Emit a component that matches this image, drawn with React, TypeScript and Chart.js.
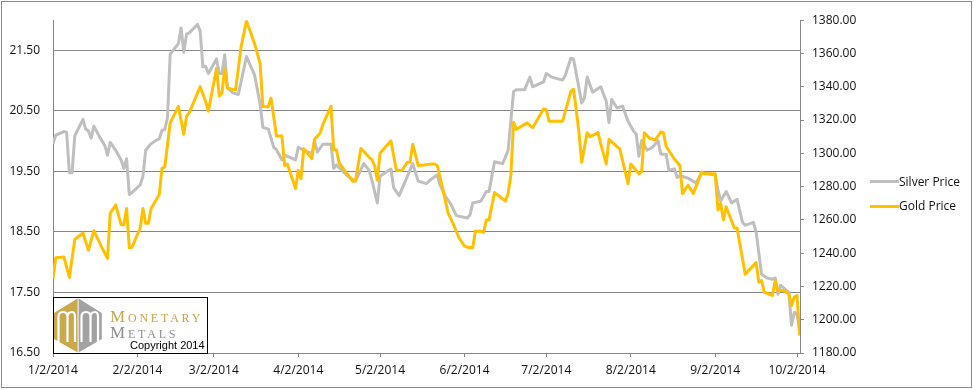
import React, { useEffect, useRef } from "react";
import { Chart, registerables } from "chart.js";

Chart.register(...registerables);

const YEAR = 2014;

const silverDates = [
  "1/2", "1/3", "1/6", "1/7", "1/8", "1/9", "1/10", "1/13", "1/14", "1/15", "1/16", "1/17", "1/19", "1/21", "1/22", "1/23", "1/25", "1/27", "1/28", "1/29", "1/30", "1/31",
  "2/3", "2/4", "2/5", "2/7", "2/9", "2/10", "2/11", "2/12", "2/13", "2/14", "2/17", "2/18", "2/19", "2/20", "2/21", "2/24", "2/25", "2/26", "2/27", "2/28",
  "3/3", "3/4", "3/5", "3/6", "3/7", "3/9", "3/11", "3/14", "3/17", "3/19", "3/20", "3/22", "3/24", "3/25", "3/27", "3/28",
  "4/1", "4/2", "4/4", "4/7", "4/8", "4/9", "4/11", "4/14", "4/15", "4/16", "4/20", "4/23", "4/26", "4/28", "4/29",
  "5/1", "5/2", "5/6", "5/7", "5/9", "5/14", "5/16", "5/19", "5/21", "5/23", "5/24", "5/26", "5/28", "5/30",
  "6/3", "6/4", "6/5", "6/8", "6/10", "6/11", "6/13", "6/16", "6/18", "6/20", "6/21", "6/24", "6/26", "6/27",
  "7/1", "7/2", "7/4", "7/8", "7/9", "7/11", "7/12", "7/15", "7/16", "7/17", "7/19", "7/22", "7/24", "7/25", "7/26", "7/28", "7/30",
  "8/1", "8/3", "8/4", "8/5", "8/6", "8/8", "8/10", "8/12", "8/13", "8/15", "8/16", "8/18", "8/19", "8/20", "8/23", "8/26", "8/28",
  "9/2", "9/3", "9/4", "9/6", "9/8", "9/10", "9/12", "9/13", "9/16", "9/17", "9/19", "9/21", "9/23", "9/24", "9/25", "9/26", "9/28", "9/29", "9/30",
  "10/1", "10/2", "10/3",
];

const silverPrices = [
  19.96, 20.10, 20.16, 20.15, 19.48, 19.48, 20.09, 20.36, 20.20, 20.17, 20.05, 20.25, 20.08, 19.93, 19.77, 19.98, 19.85, 19.69, 19.55, 19.71, 19.12, 19.15,
  19.28, 19.42, 19.85, 19.96, 20.02, 20.04, 20.18, 20.19, 20.39, 21.44, 21.61, 21.87, 21.47, 21.77, 21.79, 21.93, 21.82, 21.23, 21.24, 21.12,
  21.36, 21.12, 21.12, 21.43, 20.88, 20.80, 20.77, 21.40, 21.09, 20.61, 20.23, 20.20, 19.90, 19.86, 19.69, 19.77,
  19.69, 19.90, 19.85, 19.80, 20.00, 19.82, 19.95, 19.95, 19.55, 19.61, 19.43, 19.34, 19.63, 19.52, 19.36,
  18.98, 19.42, 19.54, 19.23, 19.10, 19.63, 19.34, 19.30, 19.38, 19.44, 19.28, 19.09, 18.96, 18.77,
  18.73, 18.78, 18.98, 19.01, 19.17, 19.17, 19.66, 19.63, 19.85, 20.82, 20.85, 20.85, 21.06, 20.90,
  20.98, 21.12, 21.06, 21.01, 21.09, 21.37, 21.36, 20.63, 20.71, 21.06, 20.81, 20.90, 20.66, 20.31, 20.69, 20.55, 20.58,
  20.33, 20.17, 20.12, 19.75, 20.01, 19.85, 19.90, 20.01, 19.79, 19.78, 19.52, 19.54, 19.40, 19.43, 19.39, 19.31, 19.48,
  19.44, 19.20, 19.01, 19.17, 18.98, 19.04, 18.66, 18.61, 18.66, 18.50, 17.80, 17.74, 17.72, 17.74, 17.47, 17.62, 17.54, 17.50, 16.96,
  17.17, 17.15, 16.88,
];

const goldDates = [
  "1/2", "1/3", "1/6", "1/8", "1/10", "1/13", "1/15", "1/17", "1/20", "1/22", "1/23", "1/25", "1/27", "1/28", "1/29", "1/30", "1/31",
  "2/3", "2/4", "2/5", "2/6", "2/7", "2/10", "2/11", "2/12", "2/14", "2/17", "2/19", "2/20", "2/21", "2/25", "2/27", "2/28",
  "3/3", "3/4", "3/5", "3/6", "3/7", "3/10", "3/12", "3/14", "3/17", "3/19", "3/20", "3/22", "3/23", "3/25", "3/27", "3/28", "3/29",
  "4/1", "4/2", "4/3", "4/4", "4/7", "4/8", "4/10", "4/11", "4/14", "4/15", "4/16", "4/17", "4/22", "4/23", "4/25", "4/28", "4/29", "4/30",
  "5/1", "5/2", "5/6", "5/8", "5/10", "5/12", "5/13", "5/14", "5/16", "5/18", "5/21", "5/22", "5/23", "5/25", "5/27", "5/29", "5/31",
  "6/2", "6/3", "6/5", "6/6", "6/8", "6/9", "6/10", "6/11", "6/13", "6/15", "6/17", "6/18", "6/19", "6/20", "6/21", "6/25", "6/27",
  "7/1", "7/2", "7/3", "7/8", "7/11", "7/12", "7/13", "7/14", "7/15", "7/17", "7/18", "7/21", "7/22", "7/24", "7/25", "7/29", "7/30",
  "8/1", "8/2", "8/5", "8/6", "8/7", "8/9", "8/11", "8/13", "8/14", "8/15", "8/18", "8/20", "8/21", "8/23", "8/25", "8/28", "8/29",
  "9/2", "9/3", "9/4", "9/5", "9/6", "9/9", "9/10", "9/13", "9/17", "9/18", "9/19", "9/20", "9/23", "9/24", "9/25", "9/27", "9/29", "9/30",
  "10/1", "10/2", "10/3",
];

const goldPrices = [
  1224.5, 1237.3, 1237.7, 1225.4, 1248.2, 1252.1, 1241.7, 1253.5, 1243.2, 1236.9, 1264.0, 1268.9, 1257.1, 1257.1, 1266.9, 1243.2, 1243.6,
  1255.1, 1266.9, 1258.0, 1258.0, 1266.9, 1275.2, 1291.1, 1291.7, 1318.3, 1328.2, 1311.4, 1322.3, 1324.3, 1340.1, 1331.2, 1325.3,
  1351.0, 1334.5, 1336.1, 1351.0, 1339.1, 1338.1, 1363.8, 1379.5, 1365.8, 1353.9, 1328.2, 1328.0, 1333.2, 1310.4, 1310.4, 1292.7, 1293.6,
  1278.8, 1289.7, 1284.7, 1302.7, 1296.8, 1308.6, 1312.0, 1317.3, 1328.2, 1302.1, 1302.1, 1294.2, 1283.2, 1283.5, 1302.9, 1297.6, 1296.2, 1292.7,
  1283.8, 1300.1, 1307.5, 1289.7, 1289.7, 1294.6, 1294.6, 1305.5, 1292.7, 1293.0, 1293.6, 1293.6, 1292.7, 1278.8, 1264.0, 1257.1, 1249.1,
  1244.2, 1243.6, 1243.2, 1253.1, 1253.1, 1252.5, 1260.0, 1260.0, 1276.4, 1273.9, 1271.3, 1275.8, 1286.7, 1318.7, 1314.4, 1318.3, 1315.4,
  1326.6, 1326.2, 1319.3, 1319.3, 1337.1, 1338.5, 1326.2, 1312.4, 1294.6, 1312.4, 1310.0, 1312.4, 1305.5, 1293.6, 1308.4, 1302.5, 1295.6,
  1281.7, 1293.6, 1287.7, 1289.0, 1312.4, 1308.9, 1308.1, 1312.8, 1312.4, 1304.1, 1296.6, 1292.7, 1275.8, 1280.8, 1275.8, 1288.7, 1287.7,
  1287.7, 1266.0, 1269.9, 1260.0, 1267.9, 1255.1, 1255.1, 1227.4, 1234.3, 1222.5, 1223.5, 1216.5, 1214.6, 1223.5, 1217.5, 1217.5, 1215.6, 1208.6,
  1213.6, 1214.6, 1190.5,
];

const xTickDates = ["1/2", "2/2", "3/2", "4/2", "5/2", "6/2", "7/2", "8/2", "9/2", "10/2"];
const xAxisStart = "1/2";
const xAxisEnd = "10/4";
const silverTicks = [16.5, 17.5, 18.5, 19.5, 20.5, 21.5];
const silverMin = 16.5;
const silverMax = 22;
const goldTicks = [1180, 1200, 1220, 1240, 1260, 1280, 1300, 1320, 1340, 1360, 1380];
const goldMin = 1180;
const goldMax = 1380;

const FONT = "'Open Sans', 'Liberation Sans', sans-serif";
const GRID = "#868686";

function dayOfYear(md: string): number {
  const [m, d] = md.split("/").map(Number);
  return (Date.UTC(YEAR, m - 1, d) - Date.UTC(YEAR, 0, 1)) / 86400000 + 1;
}

function labelFromDay(v: number): string {
  const dt = new Date(Date.UTC(YEAR, 0, Math.round(v)));
  return `${dt.getUTCMonth() + 1}/${dt.getUTCDate()}/${YEAR}`;
}

export default function App() {
  const ref = useRef<HTMLCanvasElement>(null);

  useEffect(() => {
    if (!ref.current) return;
    Chart.defaults.font.family = FONT;
    const chart = new Chart(ref.current, {
      type: "line",
      data: {
        datasets: [
          {
            label: "Silver Price",
            data: silverDates.map((d, i) => ({ x: dayOfYear(d), y: silverPrices[i] })),
            borderColor: "#BFBFBF",
            backgroundColor: "#BFBFBF",
            borderWidth: 3,
            pointRadius: 0,
            tension: 0,
            yAxisID: "y",
            order: 1,
            borderJoinStyle: "round",
          },
          {
            label: "Gold Price",
            data: goldDates.map((d, i) => ({ x: dayOfYear(d), y: goldPrices[i] })),
            borderColor: "#FFC000",
            backgroundColor: "#FFC000",
            borderWidth: 3,
            pointRadius: 0,
            tension: 0,
            yAxisID: "y1",
            order: 0,
            borderJoinStyle: "round",
          },
        ],
      },
      options: {
        responsive: false,
        animation: false,
        events: [],
        layout: { padding: { top: 15, left: 0, right: 0, bottom: 0 } },
        plugins: {
          legend: { display: false },
          tooltip: { enabled: false },
        },
        scales: {
          x: {
            type: "linear",
            min: dayOfYear(xAxisStart),
            max: dayOfYear(xAxisEnd) - 0.9,
            afterBuildTicks: (scale: any) => {
              scale.ticks = xTickDates.map((d) => ({ value: dayOfYear(d) }));
            },
            afterFit: (scale: any) => {
              scale.height = 36;
            },
            ticks: {
              autoSkip: false,
              maxRotation: 0,
              minRotation: 0,
              padding: 6,
              color: "#111",
              font: { size: 12, family: FONT },
              callback: (v: any) => labelFromDay(Number(v)),
            },
            grid: {
              drawOnChartArea: false,
              drawTicks: true,
              tickLength: 4,
              color: GRID,
            },
            border: { color: GRID },
          },
          y: {
            type: "linear",
            position: "left",
            min: silverMin,
            max: silverMax,
            afterBuildTicks: (scale: any) => {
              scale.ticks = silverTicks.map((v) => ({ value: v }));
            },
            afterFit: (scale: any) => {
              scale.width = 53;
            },
            ticks: {
              padding: 13,
              color: "#111",
              font: { size: 12, family: FONT },
              callback: (v: any) => Number(v).toFixed(2),
            },
            grid: { color: GRID, drawTicks: false },
            border: { color: GRID },
          },
          y1: {
            type: "linear",
            position: "right",
            min: goldMin,
            max: goldMax,
            afterBuildTicks: (scale: any) => {
              scale.ticks = goldTicks.map((v) => ({ value: v }));
            },
            afterFit: (scale: any) => {
              scale.width = 174;
            },
            ticks: {
              padding: 8,
              color: "#111",
              font: { size: 12, family: FONT },
              callback: (v: any) => Number(v).toFixed(2),
            },
            grid: { drawOnChartArea: false, drawTicks: true, tickLength: 4, color: GRID },
            border: { color: GRID },
          },
        },
      },
    } as any);
    return () => chart.destroy();
  }, []);

  const legendText: React.CSSProperties = {
    position: "absolute",
    left: 899,
    fontSize: 12,
    lineHeight: "16px",
    color: "#111",
    fontFamily: FONT,
    whiteSpace: "nowrap",
  };

  return (
    <div style={{ position: "fixed", left: 0, top: 0, width: 974, height: 389, background: "#fff", overflow: "hidden" }}>
      <canvas ref={ref} width={974} height={389} style={{ position: "absolute", left: 0, top: 0, width: 974, height: 389, display: "block" }} />
      <div style={{ position: "absolute", left: 1, top: 1, width: 969, height: 385, border: "1px solid #8a8a8a", pointerEvents: "none" }} />

      <div style={{ position: "absolute", left: 870, top: 180, width: 29, height: 3, background: "#BFBFBF" }} />
      <div style={{ ...legendText, top: 174 }}>Silver Price</div>
      <div style={{ position: "absolute", left: 870, top: 205, width: 29, height: 3, background: "#FFC000" }} />
      <div style={{ ...legendText, top: 198 }}>Gold Price</div>

      <div style={{ position: "absolute", left: 53, top: 297, width: 153, height: 55, border: "1px solid #000", background: "#fff" }} />
      <svg width={50} height={57} style={{ position: "absolute", left: 53, top: 297 }} viewBox="0 0 50 57">
        <polygon points="24.6,1.5 24.6,55.5 1,42 1,16" fill="#C9A84E" />
        <polygon points="25.6,1.5 48.8,16 48.8,42 25.6,55.5" fill="#A2A2A2" />
        <path d="M5.5 45 V20 Q5.5 15 10 15 Q14.5 15 14.5 20 V45 M14.5 20 Q14.5 15 19 15 Q22 15 22 20 V45" stroke="#fff" strokeWidth={2.2} fill="none" />
        <path d="M28.5 45 V20 Q28.5 15 33 15 Q37.5 15 37.5 20 V45 M37.5 20 Q37.5 15 42 15 Q45 15 45 20 V45" stroke="#fff" strokeWidth={2.2} fill="none" />
      </svg>
      <div style={{ position: "absolute", left: 110, top: 307, fontFamily: "'Liberation Serif', 'DejaVu Serif', serif", fontSize: 17, lineHeight: "20px", fontVariant: "small-caps", letterSpacing: 2.8, color: "#C9A54B", whiteSpace: "nowrap" }}>Monetary</div>
      <div style={{ position: "absolute", left: 110, top: 323, fontFamily: "'Liberation Serif', 'DejaVu Serif', serif", fontSize: 17, lineHeight: "20px", fontVariant: "small-caps", letterSpacing: 2.8, color: "#8E8E8E", whiteSpace: "nowrap" }}>Metals</div>
      <div style={{ position: "absolute", left: 130, top: 339, fontFamily: "'Liberation Sans', Arial, sans-serif", fontSize: 11, lineHeight: "13px", color: "#000", whiteSpace: "nowrap" }}>Copyright 2014</div>
    </div>
  );
}
